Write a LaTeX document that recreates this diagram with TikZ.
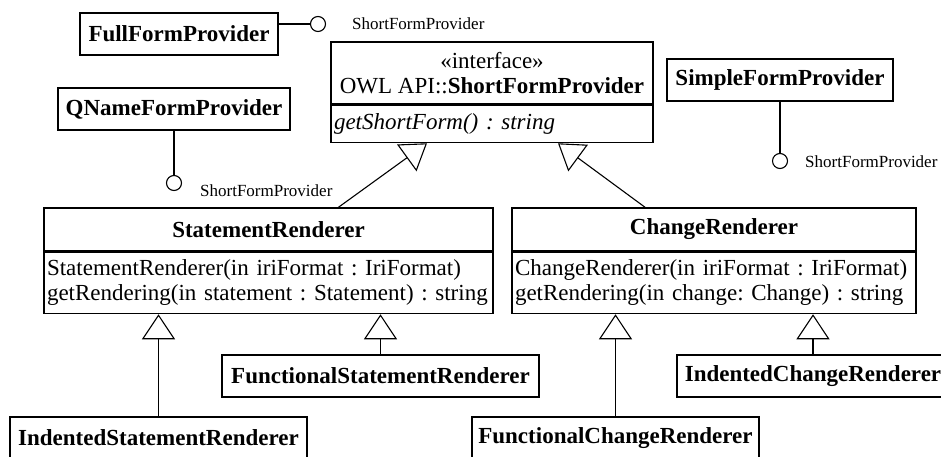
\documentclass[tikz,border=0pt]{standalone}
\usepackage{fontspec}
\setmainfont{Liberation Serif}
\usetikzlibrary{arrows.meta}

\newcommand{\bigtext}{\fontsize{23}{25}\selectfont\frenchspacing}
\newcommand{\smalltext}{\fontsize{17}{20}\selectfont}

\tikzset{
  umlbox/.style={draw, line width=1.5pt, inner sep=0pt, minimum height=42pt, font=\bigtext},
  classname/.style={umlbox, font=\bigtext\bfseries},
  opsbox/.style={draw, line width=1.5pt, inner xsep=3pt, inner ysep=0pt, align=left, font=\bigtext},
  lollipop/.style={circle, draw, line width=1.1pt, minimum size=15pt, inner sep=0pt},
  provided/.style={anchor=west, inner sep=0pt, font=\smalltext},
  link/.style={line width=1.1pt},
  inherits/.style={link, -{Triangle[open, length=25pt, width=33pt, line width=1.1pt]}}
}

\begin{document}
\begin{tikzpicture}[x=1pt, y=-1pt]
\useasboundingbox (0,0) rectangle (941,457);

% the interface
\node[umlbox, minimum width=322pt, minimum height=62pt, align=center] (sfp) at (492,73)
  {«interface»\\OWL API::\textbf{ShortFormProvider}};
\node[opsbox, text width=316pt, minimum height=37pt, anchor=north, font=\bigtext\itshape] (sfpops) at (sfp.south)
  {getShortForm() : string};

% providers with their lollipops
\node[classname, minimum width=198pt] (full) at (179,34) {FullFormProvider};
\node[classname, minimum width=232pt] (qname) at (174,109) {QNameFormProvider};
\node[classname, minimum width=226pt] (simple) at (780,80) {SimpleFormProvider};

\node[lollipop] (fullsfp) at (318,24) {};
\node[provided] (fulllbl) at (352,24) {ShortFormProvider};
\draw[link] (full.east |- fullsfp.west) -- (fullsfp.west);

\node[lollipop] (qnamesfp) at (174,183) {};
\node[provided] (qnamelbl) at (200,191) {ShortFormProvider};
\draw[link] (qname.south) -- (qnamesfp.north);

\node[lollipop] (simplesfp) at (780,161) {};
\node[provided] (simplelbl) at (805,162) {ShortFormProvider};
\draw[link] (simple.south) -- (simplesfp.north);

% renderers
\node[classname, minimum width=449pt, minimum height=43pt] (stmt) at (268.5,229.5) {StatementRenderer};
\node[opsbox, text width=443pt, minimum height=61pt, anchor=north] (stmtops) at (stmt.south)
  {StatementRenderer(in iriFormat : IriFormat)\\getRendering(in statement : Statement) : string};

\node[classname, minimum width=404pt, minimum height=43pt] (chg) at (714,229.5) {ChangeRenderer};
\node[opsbox, text width=398pt, minimum height=61pt, anchor=north] (chgops) at (chg.south)
  {ChangeRenderer(in iriFormat : IriFormat)\\getRendering(in change: Change) : string};

\node[classname, minimum width=317pt] (fstmt) at (380.5,376) {FunctionalStatementRenderer};
\node[classname, minimum width=297pt] (istmt) at (158.5,438) {IndentedStatementRenderer};
\node[classname, minimum width=287pt] (fchg) at (615.5,438) {FunctionalChangeRenderer};
\node[classname, minimum width=272pt] (ichg) at (813,376) {IndentedChangeRenderer};

% generalizations
\draw[inherits] ([xshift=70pt]stmt.north) -- ([xshift=-65pt]sfpops.south);
\draw[inherits] ([xshift=-69pt]chg.north) -- ([xshift=66pt]sfpops.south);
\draw[inherits] (istmt.north) -- (istmt.north |- stmtops.south);
\draw[inherits] (fstmt.north) -- (fstmt.north |- stmtops.south);
\draw[inherits] (fchg.north) -- (fchg.north |- chgops.south);
\draw[inherits] (ichg.north) -- (ichg.north |- chgops.south);
\end{tikzpicture}
\end{document}
